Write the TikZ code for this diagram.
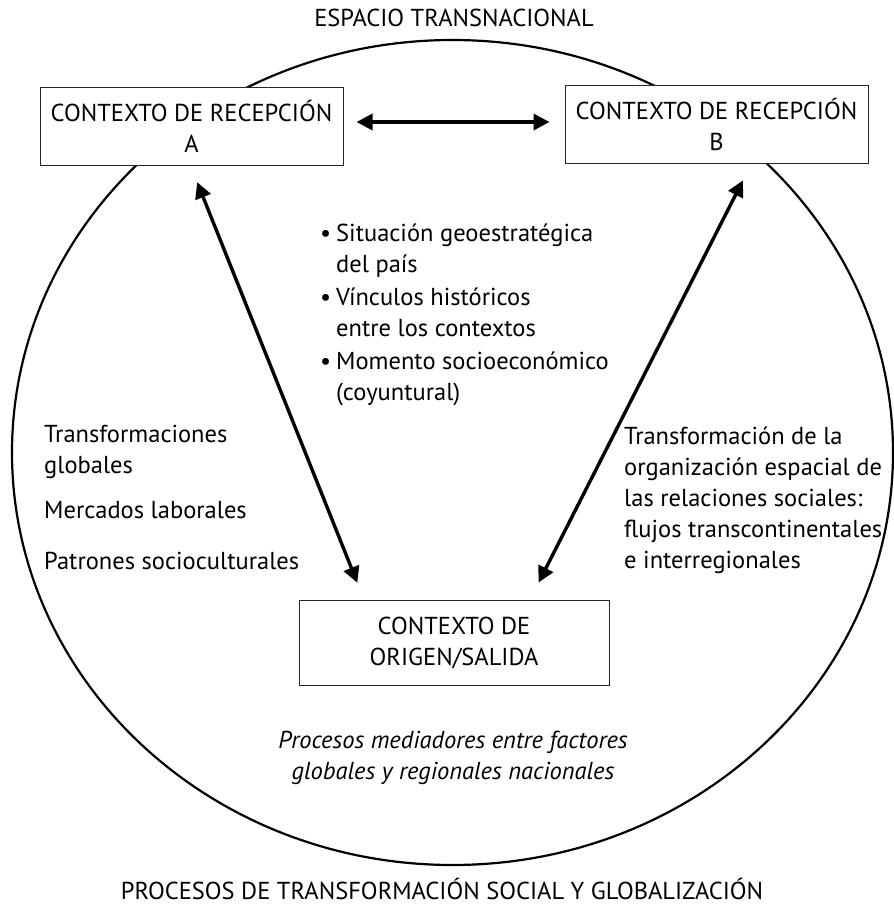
\documentclass[tikz,border=0pt]{standalone}
\usepackage{fontspec}
\setmainfont{PT Sans}
\usetikzlibrary{arrows.meta}
\newcommand{\tamano}{\fontsize{24.5pt}{31pt}\selectfont}
\newcommand{\punta}{Triangle[length=16pt,width=16pt]}

\tikzset{
  caja/.style={draw=black!85, line width=1pt, fill=white, align=center, inner sep=0pt},
  flecha/.style={line width=3.4pt, {\punta}-{\punta}},
  texto/.style={align=left, inner sep=0pt, anchor=base west}
}

\begin{document}
\begin{tikzpicture}[x=1pt, y=-1pt, every node/.style={font=\tamano}]

    \useasboundingbox (0, 0) rectangle (894, 905);

    % espacio transnacional
    \draw[line width=2.2pt] (452.5, 452.5) ellipse [x radius=440.5, y radius=412.5];

    \node[anchor=base, inner sep=0pt] (esp) at (454, 26) {ESPACIO TRANSNACIONAL};
    \node[anchor=base, inner sep=0pt] (proc) at (442, 899) {PROCESOS DE TRANSFORMACIÓN SOCIAL Y GLOBALIZACIÓN};

    % contextos
    \node[caja, minimum width=303pt, minimum height=78pt] (A) at (191.5, 126) {CONTEXTO DE RECEPCIÓN\\A};
    \node[caja, minimum width=303pt, minimum height=78pt] (B) at (716.5, 124) {CONTEXTO DE RECEPCIÓN\\B};
    \node[caja, minimum width=310pt, minimum height=85pt] (O) at (454, 642.5) {CONTEXTO DE\\ORIGEN/SALIDA};

    \draw[flecha, shorten <=13pt, shorten >=15pt] ([yshift=4pt]A.east) -- ([yshift=4pt]A.east -| B.west);
    \draw[flecha, shorten <=18pt, shorten >=18pt] ([xshift=-1pt]A.south) -- ([xshift=-90pt]O.north);
    \draw[flecha, shorten <=19pt, shorten >=19pt] ([xshift=35pt]B.south) -- ([xshift=76pt]O.north);

    % factores (base = ultima linea)
    \node[texto] (glob) at (44, 473) {Transformaciones\\globales};
    \node[texto] (merc) at (44, 518) {Mercados laborales};
    \node[texto] (patr) at (44, 569) {Patrones socioculturales};

    \node[texto] (fact) at (336, 400) {\llap{\textbullet\hspace{5pt}}Situación geoestratégica\\del país\\[2pt]
      \llap{\textbullet\hspace{5pt}}Vínculos históricos\\entre los contextos\\[2pt]
      \llap{\textbullet\hspace{5pt}}Momento socioeconómico\\(coyuntural)};

    \node[texto] (trans) at (624, 568) {Transformación de la\\organización espacial de\\las relaciones sociales:\\flujos transcontinentales\\e interregionales};

    \node[anchor=base, align=center, inner sep=0pt, font=\tamano\itshape] (med) at (453, 779) {Procesos mediadores entre factores\\globales y regionales nacionales};

  \end{tikzpicture}
\end{document}
